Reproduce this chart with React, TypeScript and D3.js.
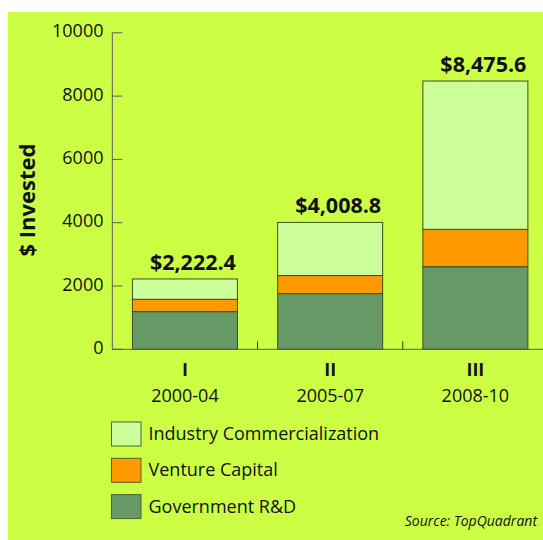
import React from "react";
import * as d3 from "d3";

const categories = ["I", "II", "III"];
const periods = ["2000-04", "2005-07", "2008-10"];
const governmentRD = [1190, 1760, 2610];
const ventureCapital = [390, 570, 1180];
const industryComm = [642.4, 1678.8, 4685.6];
const totals = ["$2,222.4", "$4,008.8", "$8,475.6"];
const yTicks = [0, 2000, 4000, 6000, 8000, 10000];
const seriesNames = ["Industry Commercialization", "Venture Capital", "Government R&D"];

const W = 543;
const H = 540;
const FONT = "'Open Sans', 'Noto Sans', sans-serif";
const BG = "#CCFF44";
const COLORS: Record<string, string> = {
  "Government R&D": "#669966",
  "Venture Capital": "#FF9900",
  "Industry Commercialization": "#CCFF99",
};

export default function App() {
  const x0 = 112.3;
  const y = d3.scaleLinear().domain([0, 10000]).range([349.3, 32.8]);
  const x = d3.scaleBand<string>().domain(categories).range([x0, 548]).padding(0);
  const bw = x.bandwidth();
  const barW = bw * 0.723;
  const barOff = bw * 0.1385;

  const rows = categories.map((c, i) => ({
    cat: c,
    "Government R&D": governmentRD[i],
    "Venture Capital": ventureCapital[i],
    "Industry Commercialization": industryComm[i],
  }));
  const keys = ["Government R&D", "Venture Capital", "Industry Commercialization"];
  const stacked = d3.stack<any>().keys(keys)(rows);

  return (
    <svg
      width={W}
      height={H}
      style={{ position: "absolute", left: 0, top: 0, display: "block" }}
      fontFamily={FONT}
    >
      <rect x={0} y={0} width={W} height={H} fill="#ffffff" />
      <rect x={8} y={12} width={W - 8} height={H - 12} fill={BG} />

      {/* bars */}
      {stacked.map((s) => (
        <g key={s.key}>
          {s.map((d, i) => (
            <rect
              key={i}
              x={(x(categories[i]) as number) + barOff}
              y={y(d[1])}
              width={barW}
              height={y(d[0]) - y(d[1])}
              fill={COLORS[s.key]}
              stroke="#3e4a2c"
              strokeWidth={1}
            />
          ))}
        </g>
      ))}

      {/* total labels */}
      {categories.map((c, i) => {
        const top = governmentRD[i] + ventureCapital[i] + industryComm[i];
        return (
          <text
            key={c}
            x={(x(c) as number) + bw / 2 + 8}
            y={y(top) - 9}
            textAnchor="middle"
            fontWeight="bold"
            fontSize={21.5}
            fill="#111"
          >
            {totals[i]}
          </text>
        );
      })}

      {/* y axis */}
      <line x1={x0} x2={x0} y1={y(10000)} y2={y(0)} stroke="#5a5a5a" strokeWidth={1} />
      {yTicks.map((t) => (
        <g key={t}>
          <line x1={x0} x2={x0 + 10} y1={y(t)} y2={y(t)} stroke="#5a5a5a" strokeWidth={1} />
          <text x={103.5} y={y(t) + 4.5} textAnchor="end" fontSize={18} fill="#111">
            {t}
          </text>
        </g>
      ))}

      {/* x axis */}
      <line x1={x0} x2={W} y1={y(0)} y2={y(0)} stroke="#5a5a5a" strokeWidth={1} />
      {categories.slice(1).map((c) => (
        <line
          key={c}
          x1={x(c) as number}
          x2={x(c) as number}
          y1={y(0)}
          y2={y(0) - 8}
          stroke="#333"
          strokeWidth={1}
        />
      ))}
      {categories.map((c, i) => (
        <g key={c}>
          <text
            x={(x(c) as number) + bw / 2}
            y={375.5}
            textAnchor="middle"
            fontWeight="bold"
            fontSize={18}
            fill="#111"
          >
            {c}
          </text>
          <text
            x={(x(c) as number) + bw / 2}
            y={401.5}
            textAnchor="middle"
            fontSize={18}
            fill="#111"
          >
            {periods[i]}
          </text>
        </g>
      ))}

      {/* y axis title */}
      <text
        transform="translate(34.5,200) rotate(-90)"
        textAnchor="middle"
        fontWeight="bold"
        fontSize={22}
        fill="#111"
      >
        $ Invested
      </text>

      {/* legend */}
      {seriesNames.map((n, i) => (
        <g key={n} transform={`translate(111.5, ${422 + i * 36.3})`}>
          <rect x={0} y={0} width={29.5} height={24} fill={COLORS[n]} stroke="#4f5f38" strokeWidth={1} />
          <text x={37} y={18} fontSize={18} fill="#111">
            {n}
          </text>
        </g>
      ))}

      {/* source */}
      <text x={537} y={526} textAnchor="end" fontStyle="italic" fontSize={14} fill="#111">
        Source: TopQuadrant
      </text>
    </svg>
  );
}
